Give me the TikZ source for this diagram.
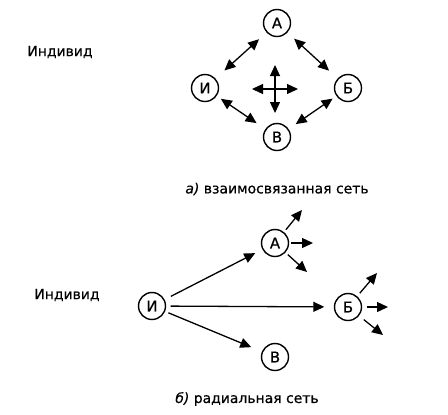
\documentclass[tikz,border=0pt]{standalone}
\usepackage{fontspec}
\setmainfont{DejaVu Sans}[FakeBold=0.6]
\usetikzlibrary{arrows.meta}
\begin{document}
\begin{tikzpicture}[x=1bp,y=-1bp,
  vert/.style={circle,draw,line width=1.4bp,minimum size=27bp,inner sep=0pt,font=\fontsize{15}{15}\selectfont},
  conn/.style={line width=1.3bp,-{Triangle[length=11bp,width=10bp]}},
  dconn/.style={line width=1.3bp,{Triangle[length=11bp,width=10bp]}-{Triangle[length=11bp,width=10bp]}},
  lbl/.style={font=\fontsize{14}{14}\selectfont}]
\useasboundingbox (0,0) rectangle (448,414);
% top network
\node[lbl] (ind1) at (60,52) {Индивид};
\node[vert] (A) at (277,23) {А};
\node[vert] (I) at (205,88) {И};
\node[vert] (B) at (348,88) {Б};
\node[vert] (V) at (277,137) {В};
\draw[dconn,shorten <=12bp,shorten >=10bp] (I) -- (A);
\draw[dconn,shorten <=9bp,shorten >=11.5bp] (A) -- (B);
\draw[dconn,shorten <=5bp,shorten >=10.5bp] (I) -- (V);
\draw[dconn,shorten <=8.5bp,shorten >=4.5bp] (V) -- (B);
\coordinate (c) at (275,89);
\coordinate (cE) at (298,89);
\coordinate (cW) at (252,89);
\coordinate (cN) at (275,65);
\coordinate (cS) at (275,113);
\draw[conn] (c) -- (cE);
\draw[conn] (c) -- (cW);
\draw[conn] (c) -- (cN);
\draw[conn] (c) -- (cS);
\node[lbl] (cap1) at (277,189) {\textit{а)} взаимосвязанная сеть};
% bottom network
\node[lbl] (ind2) at (67,295) {Индивид};
\node[vert] (A2) at (275,243) {А};
\node[vert] (I2) at (152,306) {И};
\node[vert] (B2) at (348,307) {Б};
\node[vert] (V2) at (275,357) {В};
\draw[conn,shorten <=7bp,shorten >=8bp] (I2) -- (A2);
\draw[conn,shorten <=4.5bp,shorten >=9.5bp] (I2) -- (B2);
\draw[conn,shorten <=3.5bp,shorten >=11.5bp] (I2) -- (V2);
\coordinate (a1) at (302,210);
\coordinate (a2) at (313,243);
\coordinate (a3) at (307,272);
\draw[conn,shorten <=3bp] (A2) -- (a1);
\draw[conn,shorten <=2bp] (A2) -- (a2);
\draw[conn,shorten <=3bp] (A2) -- (a3);
\coordinate (b1) at (377,273);
\coordinate (b2) at (388,307);
\coordinate (b3) at (383,335);
\draw[conn,shorten <=4bp] (B2) -- (b1);
\draw[conn,shorten <=5bp] (B2) -- (b2);
\draw[conn,shorten <=6bp] (B2) -- (b3);
\node[lbl] (cap2) at (247,399) {\textit{б)} радиальная сеть};
\end{tikzpicture}
\end{document}
